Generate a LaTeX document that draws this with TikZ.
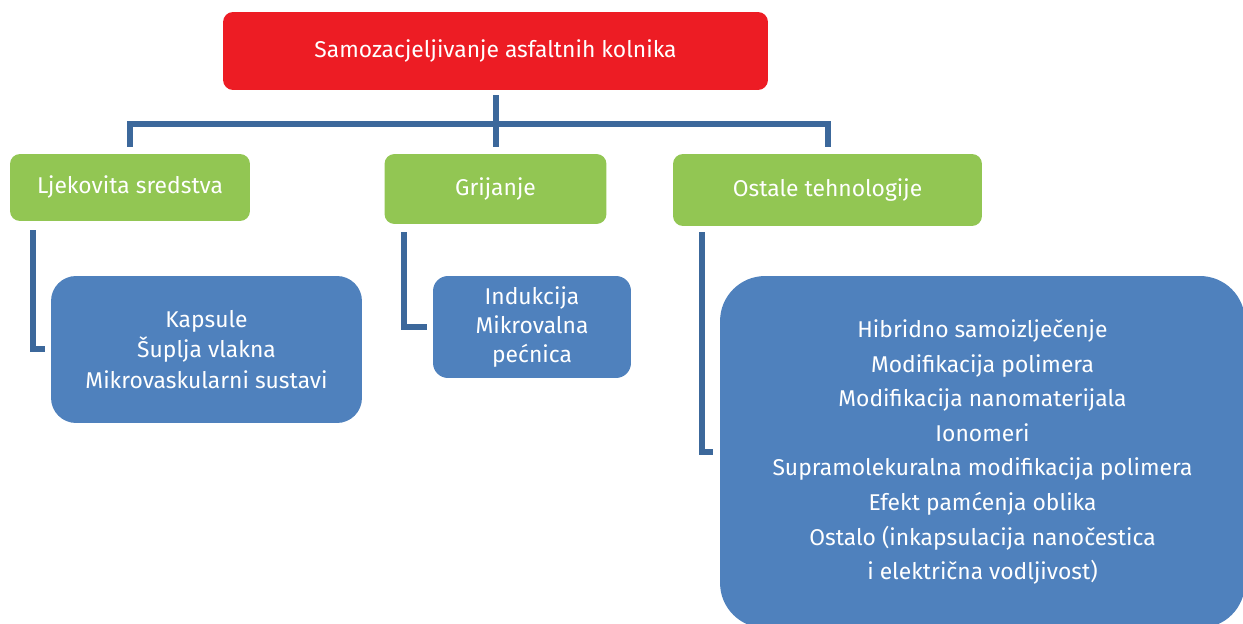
\documentclass[tikz,border=0pt]{standalone}
\usepackage{fontspec}
\setmainfont{Fira Sans}
\usetikzlibrary{positioning}

\definecolor{crvena}{HTML}{ED1C24}
\definecolor{zelena}{HTML}{92C653}
\definecolor{plava}{HTML}{4F81BD}
\definecolor{linija}{HTML}{3C689B}

\begin{document}
\begin{tikzpicture}[x=0.02cm, y=-0.02cm,
every node/.style={text=white, inner sep=0pt, align=center,
  font=\fontsize{13}{17.5}\selectfont},
glavni/.style={fill=crvena, rounded corners=0.2cm},
grana/.style={fill=zelena, rounded corners=0.2cm},
lista/.style={fill=plava, rounded corners=#1},
veza/.style={draw=linija, line width=0.12cm, line join=miter}]
\useasboundingbox (0,0) rectangle (1243,624);
\clip (0,0) rectangle (1243,624);

\node [glavni, minimum width=10.9cm, minimum height=1.56cm] (title) at (495.5,51)
  {Samozacjeljivanje asfaltnih kolnika};
\node [grana, minimum width=4.8cm, minimum height=1.34cm] (lek) at (130,187.5)
  {Ljekovita sredstva};
\node [grana, minimum width=4.44cm, minimum height=1.4cm] (gri) at (495.5,189)
  {Grijanje};
\node [grana, minimum width=6.18cm, minimum height=1.44cm] (ost) at (827.5,190)
  {Ostale tehnologije};
\node [lista=0.5cm, minimum width=6.22cm, minimum height=2.94cm] (kap) at (206.5,349.5)
  {Kapsule\\Šuplja vlakna\\Mikrovaskularni sustavi};
\node [lista=0.3cm, minimum width=3.96cm, minimum height=2.04cm,
  font=\fontsize{13}{16.5}\selectfont] (ind) at (532,327)
  {Indukcija\\Mikrovalna\\pećnica};
\node [lista=0.9cm, minimum width=10.5cm, minimum height=7.04cm,
  font=\fontsize{13}{19.7}\selectfont] (hib) at (982.5,452)
  {Hibridno samoizlječenje\\Modifikacija polimera\\Modifikacija nanomaterijala\\
   Ionomeri\\Supramolekuralna modifikacija polimera\\Efekt pamćenja oblika\\
   Ostalo (inkapsulacija nanočestica\\i električna vodljivost)};

\coordinate (sabir) at (title.south |- 0,124);
\draw [veza, shorten <=0.1cm] (title.south) -- (sabir);
\draw [veza, shorten <=0.14cm, shorten >=0.14cm] (lek.north) |- (sabir) -| (ost.north);
\draw [veza, shorten >=0.14cm] (sabir) -- (gri.north);

\draw [veza, shorten <=0.18cm, shorten >=0.12cm] ([xshift=0.46cm]lek.south west) |- (kap.west);
\draw [veza, shorten <=0.16cm, shorten >=0.12cm] ([xshift=0.4cm]gri.south west) |- (ind.west);
\draw [veza, shorten <=0.12cm, shorten >=0.14cm] ([xshift=0.58cm]ost.south west) |- (hib.west);
\end{tikzpicture}
\end{document}
